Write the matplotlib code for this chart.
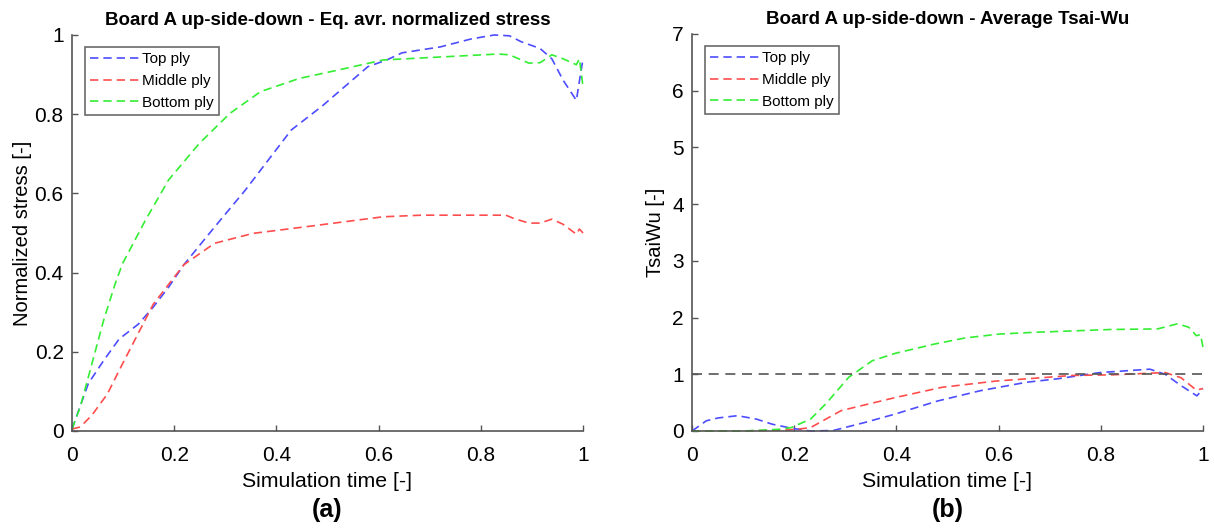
import numpy as np
import matplotlib.pyplot as plt

plt.rcParams['font.family'] = ['Liberation Sans', 'DejaVu Sans']

# (a) equivalent average normalized stress
xa_top = [0, 0.032, 0.062, 0.092, 0.13, 0.159, 0.189, 0.219, 0.279, 0.339, 0.429, 0.489,
          0.579, 0.616, 0.646, 0.721, 0.781, 0.826, 0.856, 0.879, 0.916, 0.939, 0.961, 0.987, 1.0]
ya_top = [0.005, 0.12, 0.178, 0.232, 0.27, 0.313, 0.363, 0.42, 0.515, 0.608, 0.76, 0.82,
          0.92, 0.937, 0.955, 0.97, 0.99, 1.0, 0.998, 0.983, 0.966, 0.94, 0.886, 0.835, 0.94]
xa_mid = [0, 0.016, 0.039, 0.069, 0.099, 0.129, 0.159, 0.189, 0.219, 0.279, 0.354, 0.459,
          0.609, 0.684, 0.849, 0.864, 0.894, 0.916, 0.939, 0.961, 0.987, 0.993, 1.0]
ya_mid = [0.005, 0.01, 0.04, 0.093, 0.17, 0.245, 0.32, 0.37, 0.42, 0.474, 0.499, 0.516,
          0.541, 0.545, 0.545, 0.537, 0.525, 0.525, 0.535, 0.522, 0.497, 0.51, 0.5]
xa_bot = [0, 0.016, 0.039, 0.062, 0.084, 0.099, 0.144, 0.189, 0.249, 0.309, 0.369, 0.444,
          0.519, 0.609, 0.759, 0.834, 0.856, 0.894, 0.916, 0.939, 0.961, 0.987, 0.993, 1.0]
ya_bot = [0.005, 0.06, 0.17, 0.28, 0.37, 0.423, 0.533, 0.634, 0.726, 0.802, 0.857, 0.89,
          0.911, 0.937, 0.947, 0.952, 0.95, 0.929, 0.93, 0.95, 0.94, 0.925, 0.94, 0.87]

# (b) average Tsai-Wu
xb_top = [0, 0.028, 0.051, 0.089, 0.126, 0.157, 0.194, 0.232, 0.277, 0.338, 0.398, 0.481,
          0.564, 0.655, 0.715, 0.798, 0.896, 0.926, 0.957, 0.988, 1.0]
yb_top = [0, 0.18, 0.23, 0.27, 0.21, 0.12, 0.05, 0.0, 0.01, 0.15, 0.3, 0.53,
          0.71, 0.86, 0.92, 1.03, 1.09, 1.0, 0.8, 0.62, 0.74]
xb_mid = [0, 0.1, 0.19, 0.214, 0.232, 0.292, 0.398, 0.489, 0.594, 0.67, 0.745, 0.82,
          0.926, 0.957, 0.987, 1.0]
yb_mid = [0, 0.0, 0.02, 0.04, 0.06, 0.36, 0.59, 0.77, 0.88, 0.93, 0.98, 0.99,
          1.03, 0.94, 0.72, 0.75]
xb_bot = [0, 0.1, 0.17, 0.194, 0.232, 0.262, 0.307, 0.353, 0.398, 0.473, 0.534, 0.602,
          0.67, 0.82, 0.911, 0.95, 0.972, 0.987, 0.995, 1.0]
yb_bot = [0, 0.0, 0.03, 0.06, 0.21, 0.48, 0.95, 1.24, 1.37, 1.53, 1.64, 1.71,
          1.74, 1.79, 1.8, 1.89, 1.83, 1.68, 1.7, 1.48]
limit = 1.0

labels = ['Top ply', 'Middle ply', 'Bottom ply']
colors = ['#4d4dff', '#ff4d4d', '#33ee33']
xticks = [0, 0.2, 0.4, 0.6, 0.8, 1]
xticklabels = ['0', '0.2', '0.4', '0.6', '0.8', '1']

fig = plt.figure(figsize=(12.14, 5.28), dpi=100)
ax1 = fig.add_axes([72 / 1214, 1 - 431 / 528, 511 / 1214, 396 / 528])
ax2 = fig.add_axes([692 / 1214, 1 - 431 / 528, 511 / 1214, 397 / 528])


def style(ax):
    for s in ['top', 'right']:
        ax.spines[s].set_visible(False)
    for s in ['left', 'bottom']:
        ax.spines[s].set_color('#555555')
        ax.spines[s].set_linewidth(1.2)
    ax.tick_params(direction='in', length=4, width=1, colors='#555555',
                   labelcolor='black', labelsize=15, pad=6)
    ax.tick_params(axis='x', pad=11)
    ax.set_xlim(0, 1)
    ax.set_xticks(xticks)
    ax.set_xticklabels(xticklabels)
    ax.set_xlabel('Simulation time [-]', fontsize=15.3, labelpad=5)


dash = (5, 3)
for xs, ys, c, l in zip([xa_top, xa_mid, xa_bot], [ya_top, ya_mid, ya_bot], colors, labels):
    ax1.plot(xs, ys, color=c, lw=1.2, dashes=dash, label=l, clip_on=False)
for xs, ys, c, l in zip([xb_top, xb_mid, xb_bot], [yb_top, yb_mid, yb_bot], colors, labels):
    ax2.plot(xs, ys, color=c, lw=1.2, dashes=dash, label=l, clip_on=False)
ax2.axhline(limit, color='#555555', lw=1.2, dashes=(6, 4))

style(ax1)
ax1.set_ylim(0, 1)
ax1.set_yticks([0, 0.2, 0.4, 0.6, 0.8, 1])
ax1.set_yticklabels(['0', '0.2', '0.4', '0.6', '0.8', '1'])
ax1.set_ylabel('Normalized stress [-]', fontsize=14.5, labelpad=2)
ax1.set_title('Board A up-side-down - Eq. avr. normalized stress', fontsize=13.5,
              fontweight='bold', pad=7)

style(ax2)
ax2.set_ylim(0, 7)
ax2.set_yticks(range(8))
ax2.set_ylabel('TsaiWu [-]', fontsize=14.5, labelpad=5)
ax2.set_title('Board A up-side-down - Average Tsai-Wu', fontsize=13.5,
              fontweight='bold', pad=7)

for ax in (ax1, ax2):
    leg = ax.legend(loc='upper left', bbox_to_anchor=(0.025, 0.97), fontsize=11,
                    frameon=True, fancybox=False, handlelength=3.3, handletextpad=0.1,
                    borderpad=0.35, labelspacing=0.5, borderaxespad=0)
    leg.get_frame().set_edgecolor('#444444')
    leg.get_frame().set_linewidth(1.2)

fig.text(ax1.get_position().x0 + ax1.get_position().width / 2, 0.02, '(a)',
         ha='center', fontsize=18, fontweight='bold')
fig.text(ax2.get_position().x0 + ax2.get_position().width / 2, 0.02, '(b)',
         ha='center', fontsize=18, fontweight='bold')

fig.savefig('out.png', dpi=100)
